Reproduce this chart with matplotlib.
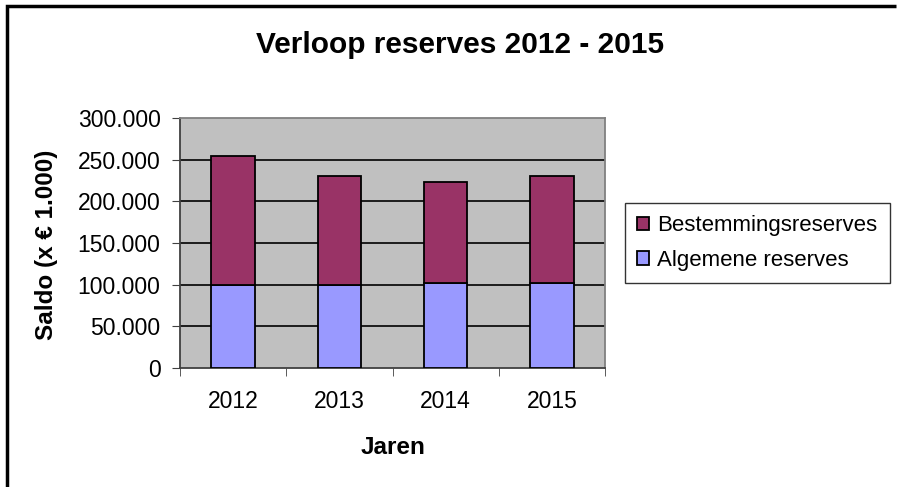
import matplotlib.pyplot as plt
from matplotlib.lines import Line2D
from matplotlib.ticker import FuncFormatter

plt.rcParams["font.family"] = ["Liberation Sans", "DejaVu Sans"]

# gegevens (x € 1.000)
jaren = ["2012", "2013", "2014", "2015"]
algemene = [100000, 100000, 101500, 101500]
bestemming = [155000, 130000, 121500, 128500]

fig = plt.figure(figsize=(8.97, 4.87), dpi=100)
W, H = 897, 487

# plotgebied: x 180-605, y 118-368 (pixels)
ax = fig.add_axes([180 / W, 1 - 368 / H, (605 - 180) / W, (368 - 118) / H])
ax.set_facecolor("#C0C0C0")

x = range(len(jaren))
b1 = ax.bar(x, algemene, width=0.41, color="#9999FF", edgecolor="black", linewidth=1.3,
            label="Algemene reserves", zorder=3)
b2 = ax.bar(x, bestemming, width=0.41, bottom=algemene, color="#993366", edgecolor="black",
            linewidth=1.3, label="Bestemmingsreserves", zorder=3)

ax.set_xlim(-0.5, len(jaren) - 0.5)
ax.set_ylim(0, 300000)
ax.set_yticks(range(0, 300001, 50000))
ax.yaxis.set_major_formatter(FuncFormatter(lambda v, p: f"{int(v):,}".replace(",", ".")))
ax.set_xticks(x)
ax.set_xticklabels(jaren)
ax.set_xticks([i - 0.5 for i in range(len(jaren) + 1)], minor=True)
ax.tick_params(axis="x", which="major", length=0, pad=16, labelsize=16.5)
ax.tick_params(axis="x", which="minor", length=6, direction="out", color="#404040")
ax.tick_params(axis="y", length=6, direction="out", labelsize=16.5, pad=8, color="#404040")

for v in range(50000, 300000, 50000):
    ax.axhline(v, color="black", linewidth=1.2, zorder=1)

ax.spines["left"].set_color("#404040")
ax.spines["bottom"].set_color("#404040")
ax.spines["top"].set_color("#808080")
ax.spines["right"].set_color("#808080")
for s in ax.spines.values():
    s.set_linewidth(1.3)

fig.text(460 / W, 1 - 45 / H, "Verloop reserves 2012 - 2015", ha="center", va="center",
         fontsize=21.5, fontweight="bold")
fig.text(46 / W, 1 - 245 / H, "Saldo (x € 1.000)", ha="center", va="center",
         rotation=90, fontsize=17.5, fontweight="bold")
fig.text(393 / W, 1 - 447 / H, "Jaren", ha="center", va="center",
         fontsize=17.5, fontweight="bold")

leg = fig.legend([b2, b1], ["Bestemmingsreserves", "Algemene reserves"],
                 loc="upper left", bbox_to_anchor=(625 / W, 1 - 203 / H),
                 fontsize=16, frameon=True, fancybox=False, edgecolor="black",
                 handlelength=0.55, handleheight=0.55, handletextpad=0.35,
                 borderpad=0.55, labelspacing=0.62, borderaxespad=0)
leg.get_frame().set_linewidth(1.0)

# kader rond de grafiek (loopt rechts en onder buiten beeld)
kader = Line2D([7 / W, 7 / W, 0.999], [0.0, 1 - 6 / H, 1 - 6 / H], transform=fig.transFigure,
               color="black", linewidth=2.5, solid_joinstyle="miter", solid_capstyle="butt")
fig.lines.append(kader)

fig.savefig("out.png", dpi=100)
